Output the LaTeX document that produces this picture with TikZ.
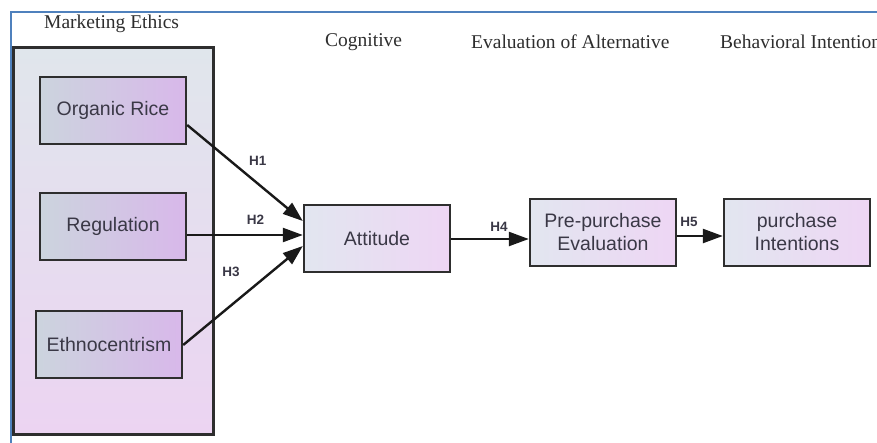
\documentclass[tikz,border=0pt]{standalone}
\usepackage{fontspec}
\setmainfont{Liberation Serif}
\newfontfamily\arialf{Liberation Sans}
\usetikzlibrary{arrows.meta}
\definecolor{frameblue}{HTML}{4F81BD}
\definecolor{txtgrey}{HTML}{3A3846}
\tikzset{
  px/.style={x=1pt,y=-1pt},
  boxbase/.style={draw=black!82, line width=2.4pt, minimum width=146pt, minimum height=67pt,
    font=\arialf\fontsize{19.5}{23}\selectfont, text=txtgrey, align=center, inner sep=0pt},
  darkbox/.style={boxbase,
    left color={rgb,255:red,204;green,212;blue,222}, right color={rgb,255:red,216;green,184;blue,234}},
  lightbox/.style={boxbase,
    left color={rgb,255:red,226;green,230;blue,240}, right color={rgb,255:red,238;green,214;blue,244}},
  conn/.style={-{Triangle[length=20pt,width=14pt]}, line width=2.4pt, black!90},
  hlabel/.style={font=\arialf\bfseries\fontsize{13.5}{16}\selectfont, text=txtgrey, inner sep=0pt},
  title/.style={font=\fontsize{19.5}{23}\selectfont, text=black!82, inner sep=0pt, anchor=west}
}
\begin{document}
\begin{tikzpicture}[px]
\useasboundingbox (0,0) rectangle (877,442);
\clip (0,0) rectangle (877,442);
\fill[white] (0,0) rectangle (877,442);
% blue frame
\draw[frameblue, line width=2.4pt] (11,443) -- (11,12) -- (878,12);
% titles
\node[title] (tme) at (44,24) {Marketing Ethics};
\node[title] (tcog) at (325,42) {Cognitive};
\node[title] (teval) at (471,42) {Evaluation of Alternative};
\node[title] (tbeh) at (720,42) {Behavioral Intention};
% outer group box
\node[draw=black!82, line width=2.4pt, top color={rgb,255:red,224;green,230;blue,236},
  bottom color={rgb,255:red,236;green,212;blue,242}, minimum width=200pt, minimum height=387pt,
  inner sep=0pt] (group) at (113.5,241) {};
% variable boxes
\node[darkbox] (org) at (113,110.5) {Organic Rice};
\node[darkbox] (reg) at (113,226.5) {Regulation};
\node[darkbox] (eth) at (109,344.5) {Ethnocentrism};
\node[lightbox] (att) at (377,238.5) {Attitude};
\node[lightbox] (pre) at (603,232.5) {Pre-purchase\\Evaluation};
\node[lightbox] (pur) at (797,232.5) {purchase\\Intentions};
% connectors
\draw[conn] (org.east |- 0,125) -- (att.west |- 0,221) node[hlabel, pos=0.61, above=17pt] (h1) {H1};
\draw[conn] (reg.east |- 0,235) -- (att.west |- 0,235) node[hlabel, pos=0.59, above=9pt] (h2) {H2};
\draw[conn] (eth.east |- 0,345) -- (att.west |- 0,246) node[hlabel, pos=0.4, above=28pt] (h3) {H3};
\draw[conn] (att.east |- 0,239) -- (pre.west |- 0,239) node[hlabel, pos=0.615, above=6pt] (h4) {H4};
\draw[conn] (pre.east |- 0,236) -- (pur.west |- 0,236) node[hlabel, pos=0.26, above=8pt] (h5) {H5};
\end{tikzpicture}
\end{document}
